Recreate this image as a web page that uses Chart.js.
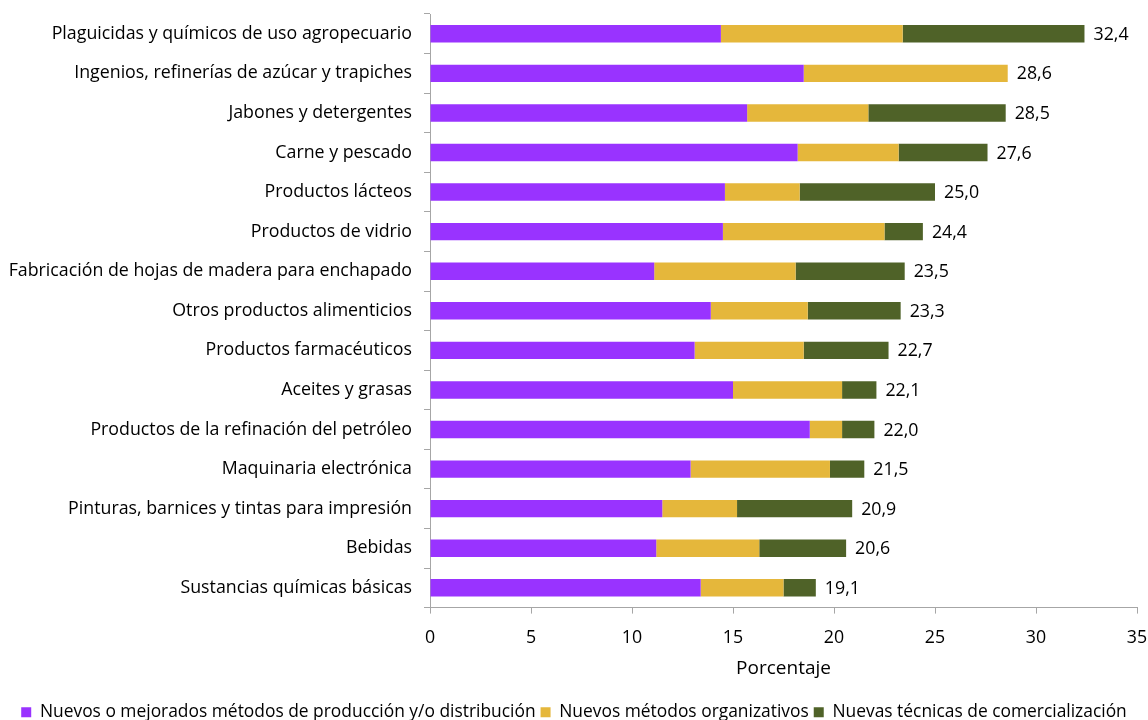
<!DOCTYPE html>
<html>
<head>
  <title>Innovación por rama industrial</title>
  <meta charset="utf-8">
  <style type="text/css">
    body { margin: 0; background: #fff; }
    #wrap { width: 1148px; height: 720px; position: relative; }
  </style>
  <script src="https://cdn.jsdelivr.net/npm/chart.js@4.4.0/dist/chart.umd.min.js"></script>
</head>
<body>
  <div id="wrap"><canvas id="graph"></canvas></div>
  <script>
    // data (percent)
    var CATEGORIES = [
      'Plaguicidas y químicos de uso agropecuario',
      'Ingenios, refinerías de azúcar y trapiches',
      'Jabones y detergentes',
      'Carne y pescado',
      'Productos lácteos',
      'Productos de vidrio',
      'Fabricación de hojas de madera para enchapado',
      'Otros productos alimenticios',
      'Productos farmacéuticos',
      'Aceites y grasas',
      'Productos de la refinación del petróleo',
      'Maquinaria electrónica',
      'Pinturas, barnices y tintas para impresión',
      'Bebidas',
      'Sustancias químicas básicas'
    ];
    var PRODUCCION = [14.4, 18.5, 15.7, 18.2, 14.6, 14.5, 11.1, 13.9, 13.1, 15.0, 18.8, 12.9, 11.5, 11.2, 13.4];
    var ORGANIZATIVOS = [9.0, 10.1, 6.0, 5.0, 3.7, 8.0, 7.0, 4.8, 5.4, 5.4, 1.6, 6.9, 3.7, 5.1, 4.1];
    var COMERCIALIZACION = [9.0, 0, 6.8, 4.4, 6.7, 1.9, 5.4, 4.6, 4.2, 1.7, 1.6, 1.7, 5.7, 4.3, 1.6];
    var TOTAL_LABELS = ['32,4', '28,6', '28,5', '27,6', '25,0', '24,4', '23,5', '23,3', '22,7', '22,1', '22,0', '21,5', '20,9', '20,6', '19,1'];
    var SERIES = [
      'Nuevos o mejorados métodos de producción y/o distribución',
      'Nuevos métodos organizativos',
      'Nuevas técnicas de comercialización'
    ];

    var FONT = "'Open Sans', 'Noto Sans', sans-serif";
    var FS = 17.8;
    var AXIS_GREY = '#a6a6a6';

    // total at the end of each stacked bar
    var totals_plugin = {
      id: 'totals',
      afterDatasetsDraw: function(chart) {
        var ctx = chart.ctx;
        var meta = chart.getDatasetMeta(chart.data.datasets.length - 1);
        ctx.save();
        ctx.font = FS + 'px ' + FONT;
        ctx.fillStyle = '#000';
        ctx.textAlign = 'left';
        ctx.textBaseline = 'middle';
        meta.data.forEach(function(bar, i) {
          ctx.fillText(TOTAL_LABELS[i], bar.x + 9, bar.y + 1);
        });
        ctx.restore();
      }
    };

    Chart.defaults.font.family = FONT;
    Chart.defaults.font.size = FS;
    Chart.defaults.color = '#000';

    new Chart(document.getElementById('graph'), {
      type: 'bar',
      data: {
        labels: CATEGORIES,
        datasets: [
          { label: SERIES[0], data: PRODUCCION, backgroundColor: '#9933ff' },
          { label: SERIES[1], data: ORGANIZATIVOS, backgroundColor: '#e5b73b' },
          { label: SERIES[2], data: COMERCIALIZACION, backgroundColor: '#4f6228' }
        ]
      },
      plugins: [totals_plugin],
      options: {
        indexAxis: 'y',
        responsive: true,
        maintainAspectRatio: false,
        animation: false,
        layout: { padding: { top: 14, right: 0, left: 0, bottom: -11 } },
        datasets: {
          bar: { categoryPercentage: 1, barPercentage: 0.44, borderWidth: 0 }
        },
        plugins: {
          legend: {
            position: 'bottom',
            labels: {
              boxWidth: 10, boxHeight: 10, padding: 5,
              font: { size: 17.4 }, color: '#000'
            }
          },
          tooltip: { enabled: false }
        },
        scales: {
          x: {
            stacked: true,
            min: 0, max: 35,
            ticks: { stepSize: 5, padding: 15, font: { size: FS, lineHeight: 1 }, color: '#000' },
            grid: { drawOnChartArea: false, tickLength: 6, color: AXIS_GREY },
            border: { color: AXIS_GREY },
            title: { display: true, text: 'Porcentaje', font: { size: 19, lineHeight: 0.8 }, color: '#000', padding: { top: 0, bottom: 22 } },
            afterFit: function(scale) { scale.paddingRight = 11; scale.paddingLeft = 0; }
          },
          y: {
            stacked: true,
            ticks: { padding: 12, font: { size: FS }, color: '#000' },
            grid: { drawOnChartArea: false, offset: true, tickLength: 6, color: AXIS_GREY },
            border: { color: AXIS_GREY },
            afterFit: function(scale) {
              scale.width = 430;
              scale.paddingTop = 0;
              scale.paddingBottom = 0;
            }
          }
        }
      }
    });
  </script>
</body>
</html>
